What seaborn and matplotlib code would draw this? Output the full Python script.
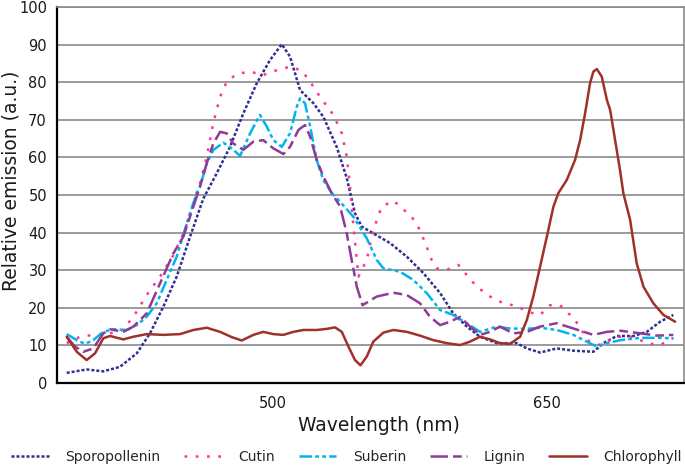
import numpy as np
import pandas as pd
import matplotlib
matplotlib.use("Agg")
import matplotlib.pyplot as plt
import seaborn as sns

# ---------------- data ----------------
series_names = ["Sporopollenin", "Cutin", "Suberin", "Lignin", "Chlorophyll"]

sporo_nm = [387.6, 398.5, 407.6, 416.7, 425.9, 433.1, 440.4, 447.7, 455.0, 462.2, 469.6, 476.8, 484.1, 491.4,
            498.7, 505.1, 509.6, 515.1, 522.4, 527.8, 535.1, 540.6, 545.1, 548.8, 555.1, 564.3, 573.4, 582.5,
            591.6, 598.8, 606.2, 613.4, 622.6, 633.5, 639.0, 646.2, 655.3, 664.4, 675.3, 680.8, 688.1, 697.2,
            704.5, 711.8, 719.0]
sporo_val = [2.7, 3.6, 3.1, 4.3, 7.9, 13.2, 20.3, 28.3, 38.9, 49.0, 55.8, 62.8, 71.7, 79.7, 85.9, 90.1, 86.8,
             77.9, 74.4, 70.8, 62.8, 54.5, 45.1, 41.6, 39.8, 37.2, 33.6, 29.2, 23.9, 18.5, 15.0, 12.3, 10.6, 10.6,
             9.2, 8.1, 9.2, 8.6, 8.3, 10.6, 12.5, 12.5, 13.6, 16.3, 18.1]

cutin_nm = [387.6, 394.9, 402.1, 409.5, 418.5, 425.9, 431.3, 438.6, 445.9, 452.2, 456.8, 460.4, 464.1, 467.7,
            471.4, 475.0, 480.5, 487.8, 495.0, 502.4, 509.6, 516.0, 520.6, 526.0, 533.3, 537.9, 540.6, 542.4,
            544.2, 547.0, 551.5, 555.1, 559.7, 566.1, 576.1, 580.6, 584.3, 587.0, 589.8, 595.2, 601.6, 606.2,
            611.6, 618.9, 626.2, 633.5, 639.0, 646.2, 651.7, 657.1, 662.6, 668.1, 671.7, 679.0, 688.1, 697.2,
            704.5, 711.8, 719.0]
cutin_val = [10.6, 12.3, 12.8, 13.0, 14.1, 19.0, 23.4, 28.3, 34.0, 40.7, 47.8, 53.0, 60.2, 69.1, 76.1, 80.1,
             82.2, 82.8, 81.9, 83.2, 84.1, 83.1, 80.1, 76.1, 71.3, 66.4, 60.2, 52.2, 42.0, 28.3, 32.7, 40.7,
             46.9, 48.5, 44.2, 40.7, 36.2, 32.7, 30.5, 30.1, 31.4, 28.7, 25.6, 23.0, 21.2, 20.5, 19.0, 18.1,
             20.7, 20.7, 18.1, 15.0, 11.4, 10.1, 12.3, 12.3, 10.6, 10.1, 12.0]

suberin_nm = [387.6, 393.1, 397.6, 402.1, 407.6, 413.1, 420.4, 425.9, 431.3, 436.8, 442.2, 447.7, 453.2, 458.6,
              460.4, 464.1, 467.7, 473.2, 477.8, 482.3, 487.8, 493.2, 496.9, 500.5, 505.1, 509.6, 513.3, 515.1,
              517.8, 520.6, 524.2, 527.8, 532.4, 537.0, 544.2, 551.5, 557.0, 560.6, 569.7, 577.0, 584.3, 591.6,
              598.8, 606.2, 613.4, 622.6, 629.8, 639.0, 646.2, 655.3, 664.4, 671.7, 677.2, 682.7, 690.2, 701.1,
              710.2, 719.0]
suberin_val = [13.0, 11.4, 10.4, 11.4, 13.6, 14.3, 14.1, 15.4, 17.6, 21.2, 27.4, 33.6, 42.5, 50.5, 52.2, 58.4,
               62.0, 63.9, 62.4, 60.4, 66.4, 71.3, 68.2, 64.6, 62.8, 66.4, 73.5, 75.7, 74.4, 68.2, 59.3, 54.0,
               50.5, 48.2, 44.2, 38.5, 32.7, 30.5, 29.6, 27.4, 23.9, 19.4, 18.1, 15.9, 13.6, 15.0, 14.5, 14.4,
               14.7, 14.1, 12.8, 11.0, 9.7, 10.6, 11.4, 12.0, 12.0, 11.9]

lignin_nm = [387.6, 392.1, 396.7, 402.1, 407.6, 411.3, 418.5, 424.0, 431.3, 438.6, 445.9, 451.3, 456.8, 460.4,
             464.1, 467.7, 471.4, 475.0, 478.6, 484.1, 489.6, 495.0, 500.5, 506.0, 509.6, 514.2, 517.8, 520.6,
             524.2, 527.8, 532.4, 537.0, 540.6, 543.3, 546.1, 549.2, 557.0, 566.1, 573.4, 580.6, 586.1, 591.6,
             597.0, 602.5, 607.9, 613.4, 618.9, 624.3, 631.6, 639.0, 646.2, 655.3, 664.4, 675.3, 682.7, 690.2,
             701.1, 710.2, 719.0]
lignin_val = [12.3, 9.7, 8.3, 9.2, 13.2, 14.3, 13.6, 15.0, 18.5, 26.5, 34.5, 38.9, 46.9, 52.2, 58.4, 63.7, 66.8,
              66.4, 63.7, 62.0, 64.2, 64.6, 62.4, 60.9, 62.8, 67.3, 68.6, 65.5, 59.3, 54.9, 50.5, 46.9, 39.8,
              32.7, 25.6, 20.7, 23.0, 24.0, 23.4, 21.2, 17.6, 15.4, 16.3, 17.6, 15.0, 12.8, 13.6, 15.0, 13.2,
              13.6, 15.0, 15.9, 14.5, 12.8, 13.6, 13.9, 13.2, 12.6, 12.8]

chloro_nm = [387.6, 393.1, 398.5, 403.1, 407.6, 411.3, 418.5, 424.0, 431.3, 440.4, 449.5, 456.8, 464.1, 471.4,
             477.8, 483.2, 489.6, 495.0, 500.5, 506.0, 511.4, 516.9, 524.2, 529.7, 534.2, 537.9, 541.5, 545.1,
             548.1, 551.5, 555.1, 560.6, 566.1, 573.4, 580.6, 587.9, 595.2, 602.5, 607.9, 613.4, 618.9, 624.3,
             629.8, 635.3, 639.0, 642.5, 646.2, 649.9, 653.5, 656.2, 660.8, 665.3, 668.1, 670.8, 673.5, 675.3,
             677.2, 679.9, 682.7, 684.5, 687.2, 689.9, 691.7, 695.4, 699.0, 702.7, 708.1, 713.6, 720.0]
chloro_val = [12.3, 8.3, 6.1, 7.9, 11.9, 12.5, 11.6, 12.3, 13.0, 12.8, 13.0, 14.1, 14.7, 13.6, 12.2, 11.3, 12.8,
              13.6, 13.0, 12.8, 13.6, 14.1, 14.1, 14.4, 14.8, 13.6, 9.7, 6.1, 4.7, 7.0, 11.0, 13.4, 14.1, 13.6,
              12.6, 11.4, 10.6, 10.1, 11.0, 12.3, 11.6, 10.6, 10.4, 12.3, 16.8, 23.0, 30.9, 38.9, 46.9, 50.5,
              54.0, 59.3, 64.6, 71.7, 79.7, 82.8, 83.5, 81.5, 75.3, 72.6, 64.6, 56.6, 50.5, 43.4, 31.8, 25.6,
              21.2, 18.1, 16.3]

x_tick_labels = ["500", "650"]
y_ticks = [0, 10, 20, 30, 40, 50, 60, 70, 80, 90, 100]

# ---------------- long-form table ----------------
frames = []
for name, xs, ys in zip(series_names,
                        [sporo_nm, cutin_nm, suberin_nm, lignin_nm, chloro_nm],
                        [sporo_val, cutin_val, suberin_val, lignin_val, chloro_val]):
    frames.append(pd.DataFrame({"nm": xs, "val": ys, "series": name}))
df = pd.concat(frames, ignore_index=True)

palette = {"Sporopollenin": "#2E3192", "Cutin": "#FF3399", "Suberin": "#00B4EE",
           "Lignin": "#8E3A96", "Chlorophyll": "#A0312A"}
dashes = {"Sporopollenin": (1.2, 0.8), "Cutin": (1.1, 3.4), "Suberin": (5, 1.3, 1.5, 1.3, 1.5, 1.3),
          "Lignin": (7, 2, 3.5, 2), "Chlorophyll": ""}

# ---------------- figure ----------------
sns.set_theme(style="white")
plt.rcParams["font.family"] = ["DejaVu Sans"]

fig = plt.figure(figsize=(6.85, 4.66), dpi=100)
ax = fig.add_axes([56.7 / 685, 83 / 466, 627.6 / 685, 376 / 466])

sns.lineplot(data=df, x="nm", y="val", hue="series", style="series", hue_order=series_names,
             style_order=series_names, palette=palette, dashes=dashes, sort=True, estimator=None,
             linewidth=1.8, ax=ax)

# axes ranges / ticks
step = 150 / 14
x0 = 500 - 11 * step
x1 = 650 + 7 * step
ax.set_xlim(x0, x1)
ax.set_ylim(0, 100)
positions = x0 + step * np.arange(0, 33)
ax.set_xticks(positions)
labels = []
for p in positions:
    if abs(p - 500) < 1e-6:
        labels.append(x_tick_labels[0])
    elif abs(p - 650) < 1e-6:
        labels.append(x_tick_labels[1])
    else:
        labels.append("")
ax.set_xticklabels(labels)
ax.set_yticks(y_ticks)
ax.tick_params(axis="both", direction="out", length=4, width=1.2, color="black",
               labelsize=10.5, labelcolor="#1a1a1a", pad=3)
ax.tick_params(axis="x", pad=5)

ax.yaxis.grid(True, color="#8a8a8a", linewidth=1.2)
ax.xaxis.grid(False)
ax.set_axisbelow(True)

for side in ["left", "bottom"]:
    ax.spines[side].set_color("black")
    ax.spines[side].set_linewidth(1.6)
for side in ["top", "right"]:
    ax.spines[side].set_color("#8a8a8a")
    ax.spines[side].set_linewidth(1.2)

ax.set_xlabel("Wavelength (nm)", fontsize=13.5, color="#1a1a1a")
ax.set_ylabel("Relative emission (a.u.)", fontsize=13.5, color="#1a1a1a")
ax.xaxis.set_label_coords(0.513, -0.088)
ax.yaxis.set_label_coords(-0.058, 0.537)

sns.move_legend(ax, "center", bbox_to_anchor=(0.462, -0.197), ncol=5, frameon=False, title=None,
                fontsize=10, handlelength=2.7, handletextpad=1.2, columnspacing=1.7)

fig.savefig("out.png", dpi=100)
